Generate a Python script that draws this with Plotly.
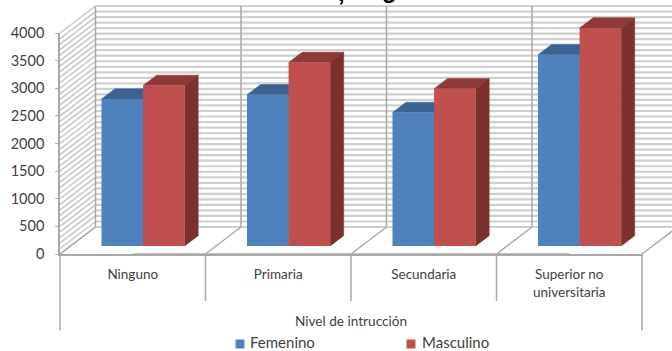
import plotly.graph_objects as go

categorias = ["Ninguno", "Primaria", "Secundaria", "Superior no<br>universitaria"]
series = ["Femenino", "Masculino"]
femenino = [2660, 2735, 2415, 3460]
masculino = [2905, 3320, 2845, 3945]
valores_eje = [0, 500, 1000, 1500, 2000, 2500, 3000, 3500, 4000]
valores_rejilla = list(range(0, 4001, 100))

# Page geometry (pixels) and scale of the front plane of the 3-D box
W, H = 672, 351
X0, X1 = 60.0, 642.0
Y0, Y4000 = 254.0, 33.0
PX_CAT = (X1 - X0) / 4
PX_VAL = (Y0 - Y4000) / 4000

# One full unit of depth moves a point this far on the x and y scales
DEPTH_X = 35.5 / PX_CAT
DEPTH_Y = 27.0 / PX_VAL

# Bars occupy this slice of the box depth, and this slice of each category
BAR_D0, BAR_D1 = 0.30, 0.68
BAR_LEFT = 0.212
BAR_W = 41.6 / PX_CAT

GRID = "#cfcfcf"
EDGE = "#a9a9a9"
TEXT = "#3f3f3f"
FONT = "Lato"
AZUL = "#4f81bd"
ROJO = "#c0504d"


def proj(cat, val, depth):
    return cat + depth * DEPTH_X, val + depth * DEPTH_Y


def line_xy(segments):
    xs, ys = [], []
    for (x0, y0), (x1, y1) in segments:
        xs += [x0, x1, None]
        ys += [y0, y1, None]
    return xs, ys


def add_lines(fig, segments, color, width):
    xs, ys = line_xy(segments)
    fig.add_trace(go.Scatter(x=xs, y=ys, mode="lines", showlegend=False,
                             hoverinfo="skip", line=dict(color=color, width=width)))


def add_face(fig, pts, color):
    fig.add_trace(go.Scatter(x=[p[0] for p in pts] + [pts[0][0]],
                             y=[p[1] for p in pts] + [pts[0][1]],
                             mode="lines", fill="toself", fillcolor=color,
                             line=dict(color=color, width=0.5),
                             showlegend=False, hoverinfo="skip"))


fig = go.Figure()

# Back wall and side wall rulings
add_lines(fig, [(proj(0, v, 1), proj(4.4, v, 1)) for v in valores_rejilla], GRID, 2.2)
add_lines(fig, [(proj(0, v, 0), proj(0, v, 1)) for v in valores_rejilla], "#c6c6c6", 1.5)
# Vertical wall lines and floor diagonals
add_lines(fig, [(proj(c, 0, 1), proj(c, 4000, 1)) for c in range(5)], EDGE, 1.5)
add_lines(fig, [(proj(c, 0, 0), proj(c, 0, 1)) for c in range(5)], EDGE, 1.5)

# Top and side faces of each bar
for values, left, top_c, side_c in [
    (femenino, BAR_LEFT, "#3c6292", "#34557f"),
    (masculino, BAR_LEFT + BAR_W, "#8e3a38", "#7b302e"),
]:
    for i, v in enumerate(values):
        a, b = i + left, i + left + BAR_W
        add_face(fig, [proj(a, v, BAR_D0), proj(b, v, BAR_D0),
                       proj(b, v, BAR_D1), proj(a, v, BAR_D1)], top_c)
        add_face(fig, [proj(b, 0, BAR_D0), proj(b, v, BAR_D0),
                       proj(b, v, BAR_D1), proj(b, 0, BAR_D1)], side_c)

# Front faces, on an overlaid subplot so they sit above the top and side faces
for name, values, left, color in [
    (series[0], femenino, BAR_LEFT, AZUL),
    (series[1], masculino, BAR_LEFT + BAR_W, ROJO),
]:
    base_x, base_y = proj(left + BAR_W / 2, 0, BAR_D0)
    fig.add_trace(go.Bar(x=[i + base_x for i in range(4)], y=values,
                         base=base_y, width=BAR_W, name=name, showlegend=False,
                         marker=dict(color=color, line=dict(width=0)),
                         xaxis="x2", yaxis="y2", hoverinfo="skip"))

# Category dividers under the front edge of the floor
add_lines(fig, [((c, 0), (c, -850)) for c in (1, 2, 3)], EDGE, 1.5)
add_lines(fig, [((c, 0), (c, -1385)) for c in (0, 4)], EDGE, 1.5)

# Carrier trace for the visible front-plane axes
fig.add_trace(go.Scatter(x=[0.5, 1.5, 2.5, 3.5], y=[0, 0, 0, 0], mode="lines",
                         line=dict(color=EDGE, width=1.5), xaxis="x3", yaxis="y3",
                         showlegend=False, hoverinfo="skip"))

x_range = [(0 - X0) / PX_CAT, (W - X0) / PX_CAT]
y_range = [(Y0 - H) / PX_VAL, Y0 / PX_VAL]
hidden = dict(visible=False, range=x_range, domain=[0, 1], fixedrange=True)
hidden_y = dict(visible=False, range=y_range, domain=[0, 1], fixedrange=True)


def page_text(text, px, py, size, family=FONT, color=TEXT, xanchor="center", yanchor="middle"):
    return dict(text=text, xref="paper", yref="paper", x=px / W, y=1 - py / H,
                xanchor=xanchor, yanchor=yanchor, showarrow=False, xshift=0, borderpad=0,
                font=dict(size=size, color=color, family=family))


# The title runs off the top of the page; only its descenders remain in view
title_bits = [page_text(t, px, py, 24, "Liberation Sans", "#000000", yanchor="bottom")
              for t, px, py in (("<b>,</b>", 341, 7), ("<b>g</b>", 389.5, 4))]

# Key under the chart: colour square and series name
key_text = [page_text(series[0], 249, 342, 15, xanchor="left"),
            page_text(series[1], 420.5, 342, 15, xanchor="left")]
key_boxes = [dict(type="rect", xref="paper", yref="paper", line=dict(width=0), fillcolor=c,
                  x0=px / W, x1=(px + 9) / W, y0=1 - 348.5 / H, y1=1 - 339.5 / H)
             for c, px in ((AZUL, 235.5), (ROJO, 406.5))]

fig.update_layout(
    width=W, height=H,
    margin=dict(l=0, r=0, t=0, b=0, autoexpand=False),
    paper_bgcolor="white", plot_bgcolor="rgba(0,0,0,0)",
    barmode="overlay",
    showlegend=False,
    font=dict(family=FONT, color=TEXT),
    xaxis=hidden,
    yaxis=hidden_y,
    xaxis2=dict(hidden, overlaying="x", anchor="y2"),
    yaxis2=dict(hidden_y, overlaying="y", anchor="x2"),
    xaxis3=dict(domain=[X0 / W, X1 / W], range=[0, 4], anchor="y3",
                tickmode="array", tickvals=[0.5, 1.5, 2.5, 3.5], ticktext=categorias,
                ticks="", showgrid=False, zeroline=False, showline=True,
                linecolor=EDGE, linewidth=1.5, ticklabelstandoff=7,
                tickfont=dict(size=13.5, color=TEXT, family=FONT), fixedrange=True),
    yaxis3=dict(domain=[1 - Y0 / H, 1 - Y4000 / H], range=[0, 4000], anchor="x3",
                tickmode="array", tickvals=valores_eje, ticks="outside", ticklen=3,
                tickcolor=EDGE, showgrid=False, zeroline=False, showline=True,
                linecolor=EDGE, linewidth=1.5, ticklabelstandoff=8,
                tickfont=dict(size=14.5, color=TEXT, family=FONT), fixedrange=True),
    shapes=key_boxes,
    annotations=[page_text("Nivel de intrucción", 351, 320.5, 13.6)] + key_text + title_bits,
)

fig.write_html("out.html", config=dict(displayModeBar=False))
